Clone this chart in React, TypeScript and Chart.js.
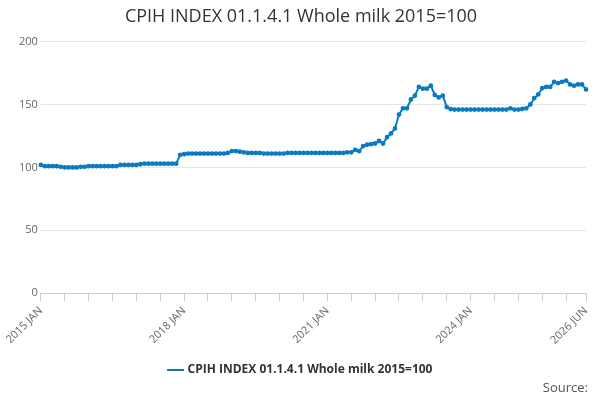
import React, { useEffect, useRef } from "react";
import { Chart, registerables } from "chart.js";
Chart.register(...registerables);

const MONTHS = ["JAN","FEB","MAR","APR","MAY","JUN","JUL","AUG","SEP","OCT","NOV","DEC"];
const labels: string[] = [];
for (let i = 0; i < 138; i++) labels.push(`${2015 + Math.floor(i / 12)} ${MONTHS[i % 12]}`);
const shownLabels = ["2015 JAN", "2018 JAN", "2021 JAN", "2024 JAN", "2026 JUN"];

const values = [
  102,101,101,101,101,100.5,100,100,100,100,100.5,100.5,
  101,101,101,101,101,101,101,101,102,102,102,102,
  102,102.5,103,103,103,103,103,103,103,103,103,110,
  110.5,111,111,111,111,111,111,111,111,111,111,111.5,
  113,113,112.5,112,111.5,111.5,111.5,111.5,111,111,111,111,
  111,111,111.5,111.5,111.5,111.5,111.5,111.5,111.5,111.5,111.5,111.5,
  111.5,111.5,111.5,111.5,111.5,112,112,114,113,117,118,118.5,
  119,121,119,124,127,131,142,147,147,154,157,164,
  162.6,162.6,165,157.6,155.6,157,148,146.3,146,146,146,146,
  146,146,146,146,146,146,146,146,146,146,147,146,
  146,146.5,147,150,155,158,163,164,164,168,167,168,
  169,166,165,166,166,162,
];
const seriesName = "CPIH INDEX 01.1.4.1 Whole milk 2015=100";

export default function App() {
  const ref = useRef<HTMLCanvasElement>(null);
  useEffect(() => {
    const chart = new Chart(ref.current!, {
      type: "line",
      data: {
        labels,
        datasets: [{
          label: seriesName,
          data: values,
          borderColor: "#0a7bc1",
          backgroundColor: "#0a7bc1",
          borderWidth: 2,
          pointRadius: 1.4,
          pointHoverRadius: 3,
          tension: 0,
        }],
      },
      options: {
        animation: false,
        responsive: false,
        layout: { padding: { left: 16, right: 14, top: 6, bottom: 14 } },
        plugins: {
          title: { display: true, text: seriesName, color: "#333", font: { family: "'Open Sans', sans-serif", size: 18, weight: "normal" }, padding: { top: 0, bottom: 14 } },
          legend: {
            position: "bottom",
            labels: { usePointStyle: true, pointStyle: "line", color: "#333", padding: 14, font: { family: "'Open Sans', sans-serif", size: 12, weight: "bold" } },
          },
          tooltip: { enabled: false },
        },
        scales: {
          y: {
            min: 0, max: 200,
            ticks: { stepSize: 50, color: "#666", font: { family: "'Open Sans', sans-serif", size: 11 } },
            grid: { color: "#e6e6e6", drawTicks: false },
            border: { display: false },
          },
          x: {
            ticks: {
              autoSkip: false, maxRotation: 45, minRotation: 45, color: "#666",
              font: { family: "'Open Sans', sans-serif", size: 11 },
              callback: (_v: any, i: number) => (shownLabels.includes(labels[i]) ? labels[i] : ""),
            },
            grid: {
              drawOnChartArea: false,
              color: (ctx: any) => (ctx.index % 6 === 0 || ctx.index === 137 ? "#ccc" : "rgba(0,0,0,0)"),
            },
            border: { color: "#ccc" },
          },
        },
      },
    });
    return () => chart.destroy();
  }, []);
  return (
    <div style={{ position: "fixed", left: 0, top: 0, width: 600, height: 400, background: "#fff" }}>
      <canvas ref={ref} width={600} height={400} />
      <div style={{ position: "absolute", right: 12, bottom: 4, fontFamily: "'Open Sans', sans-serif", fontSize: 13, color: "#555" }}>Source:</div>
    </div>
  );
}
